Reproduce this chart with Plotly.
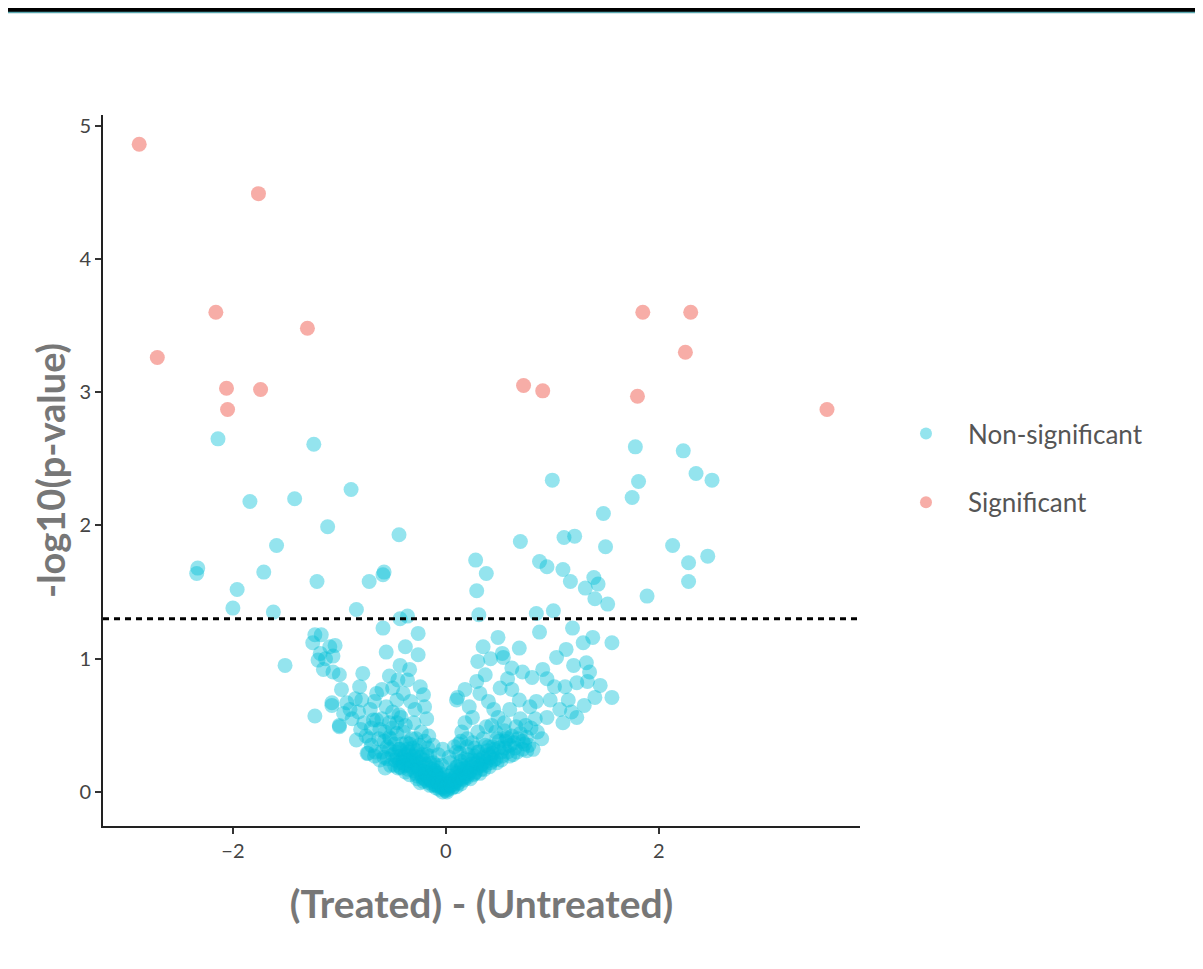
import plotly.graph_objects as go

# Significant points (log fold difference, -log10 p)
sig_x = [-2.88, -1.76, -2.16, -1.30, -2.71, -2.06, -1.74, -2.05, 0.73, 0.91, 1.85, 2.30, 2.25, 1.80, 3.58]
sig_y = [4.86, 4.49, 3.60, 3.48, 3.26, 3.03, 3.02, 2.87, 3.05, 3.01, 3.60, 3.60, 3.30, 2.97, 2.87]

# Non-significant points above the threshold line
ns_up_x = [-2.14, -1.24, -1.84, -1.42, -0.89, -1.11, -0.44, -1.59, -2.34, -2.33, -1.71, -1.21, -0.72,
           -0.58, -0.59, -1.96, -2.00, -1.62, -0.84, -0.43, -0.36,
           1.78, 2.23, 1.00, 1.81, 2.35, 2.50, 1.75, 1.48, 0.70, 1.11, 1.21, 1.50, 2.13, 2.46, 2.28,
           2.28, 1.89, 0.28, 0.38, 0.29, 0.31, 0.88, 0.95, 1.10, 1.17, 1.31, 1.39, 1.43, 1.40, 1.52,
           0.85, 1.01]
ns_up_y = [2.65, 2.61, 2.18, 2.20, 2.27, 1.99, 1.93, 1.85, 1.64, 1.68, 1.65, 1.58, 1.58,
           1.65, 1.63, 1.52, 1.38, 1.35, 1.37, 1.30, 1.32,
           2.59, 2.56, 2.34, 2.33, 2.39, 2.34, 2.21, 2.09, 1.88, 1.91, 1.92, 1.84, 1.85, 1.77, 1.72,
           1.58, 1.47, 1.74, 1.64, 1.51, 1.33, 1.73, 1.69, 1.67, 1.58, 1.53, 1.61, 1.56, 1.45, 1.41,
           1.34, 1.36]

# Non-significant points below the threshold, left half
ns_left_x = [-1.51, -1.23, -1.23, -1.17, -1.25, -1.18, -1.20, -1.09, -1.04, -1.06, -1.00, -1.06, -1.07,
             -0.98, -0.96, -1.00, -0.84, -0.78, -0.81, -0.79, -0.71, -0.73, -0.65, -0.60, -0.56, -0.53,
             -0.56, -0.59, -0.38, -0.26, -0.26, -0.43, -0.34, -0.24, -0.21, -0.29, -0.23, -0.46, -0.40,
             -0.68, -0.62, -0.53, -0.46, -0.37, -0.28, -0.21, -0.15, -0.09, -0.03, 0.00, -0.53, -0.62,
             -0.43, -0.34, -0.24, -0.15, -0.09,
             -1.07, -1.00, -0.74, -0.57, -0.65, -0.53, -0.43, -0.31, -0.15, -0.03, -1.13, -1.15, -0.93,
             -0.88, -0.80, -0.75, -0.70, -0.66, -0.48, -0.40, -0.36, -0.30, -0.27, -0.20, -0.18, -0.12,
             -0.10, -0.06, -0.05, -0.08, -0.12, -0.17, -0.20, -0.25, -0.32, -0.35, -0.38, -0.44, -0.50,
             -0.48, -0.58, -0.60, -0.70, -0.67, -0.85, -0.90, -0.30, -0.33, -0.18, -0.16, -0.12, -0.07,
             -0.04, -0.02, -0.45, -0.50, -0.36, -0.20, -0.27, -0.21, -0.38, -0.45, -0.52, -0.67,
             -0.55, -0.50, -0.47, -0.44, -0.42, -0.41, -0.39, -0.37, -0.35, -0.33, -0.31, -0.29, -0.28,
             -0.26, -0.25, -0.23, -0.22, -0.21, -0.19, -0.19, -0.17, -0.16, -0.15, -0.14, -0.13, -0.11,
             -0.11, -0.10, -0.09, -0.08, -0.07, -0.06, -0.05, -0.04, -0.03, -0.02, -0.01, -0.60, -0.57,
             -0.63, -0.72, -0.77, -0.82, -0.40, -0.34, -0.28,
             -0.48, -0.46, -0.44, -0.42, -0.40, -0.38, -0.36, -0.34, -0.32, -0.30, -0.28, -0.27, -0.25,
             -0.24, -0.22, -0.21, -0.19, -0.18, -0.16, -0.15, -0.13, -0.12, -0.10, -0.09, -0.07, -0.06,
             -0.04, -0.03, -0.01, -0.58, -0.55, -0.52, -0.50, -0.46, -0.42]
ns_left_y = [0.95, 0.57, 1.18, 1.18, 1.12, 1.04, 0.99, 1.09, 1.10, 1.02, 0.88, 0.90, 0.67,
             0.77, 0.59, 0.49, 0.39, 0.89, 0.79, 0.69, 0.62, 0.29, 0.74, 0.77, 0.64, 0.87,
             1.05, 1.23, 1.09, 1.19, 1.03, 0.95, 0.92, 0.79, 0.73, 0.62, 0.45, 0.69, 0.74,
             0.54, 0.47, 0.52, 0.44, 0.37, 0.29, 0.19, 0.27, 0.14, 0.07, 0.01, 0.32, 0.24,
             0.19, 0.13, 0.07, 0.05, 0.03,
             0.65, 0.50, 0.29, 0.18, 0.54, 0.41, 0.32, 0.22, 0.09, 0.00, 1.00, 0.92, 0.67,
             0.55, 0.47, 0.42, 0.35, 0.30, 0.24, 0.26, 0.20, 0.16, 0.12, 0.10, 0.15, 0.05,
             0.08, 0.04, 0.10, 0.18, 0.22, 0.33, 0.38, 0.35, 0.40, 0.30, 0.50, 0.58, 0.60,
             0.36, 0.38, 0.55, 0.48, 0.68, 0.70, 0.62, 0.52, 0.68, 0.55, 0.42, 0.35, 0.28,
             0.20, 0.13, 0.84, 0.78, 0.84, 0.64, 0.10, 0.08, 0.15, 0.18, 0.20, 0.27,
             0.25, 0.28, 0.30, 0.22, 0.27, 0.36, 0.20, 0.24, 0.17, 0.27, 0.33, 0.20, 0.24,
             0.17, 0.22, 0.13, 0.28, 0.16, 0.09, 0.21, 0.12, 0.07, 0.18, 0.10, 0.14, 0.06,
             0.11, 0.16, 0.05, 0.09, 0.12, 0.02, 0.06, 0.09, 0.03, 0.05, 0.02, 0.30, 0.45,
             0.40, 0.40, 0.52, 0.60, 0.45, 0.36, 0.40,
             0.20, 0.26, 0.32, 0.18, 0.22, 0.28, 0.32, 0.24, 0.19, 0.27, 0.14, 0.31, 0.18,
             0.26, 0.11, 0.24, 0.14, 0.28, 0.11, 0.22, 0.08, 0.17, 0.12, 0.20, 0.07, 0.14,
             0.04, 0.10, 0.06, 0.26, 0.34, 0.40, 0.48, 0.52, 0.56]

# Non-significant points below the threshold, right half
ns_right_x = [0.88, 1.19, 0.49, 0.35, 0.53, 0.69, 0.62, 0.54, 0.81, 0.91, 1.04, 1.13, 1.29, 1.38, 1.32,
              1.56, 0.37, 0.29, 0.18, 0.11, 0.32, 0.51, 0.62, 0.69, 0.79, 0.85, 0.95, 1.02, 1.12, 1.23,
              1.33, 1.40, 1.56, 1.23, 1.07, 1.15, 0.98, 0.18, 0.25, 0.38, 0.49, 0.60, 0.66, 0.76, 0.82,
              0.72, 0.57, 0.44, 0.35, 0.25, 0.16, 0.07, 0.01, 0.13, 0.04, -0.03, 0.25, 0.41, 0.10, 0.08,
              0.10,
              0.05, 0.09, 0.12, 0.14, 0.19, 0.21, 0.23, 0.28, 0.30, 0.33, 0.37, 0.40, 0.45, 0.48, 0.52,
              0.55, 0.60, 0.63, 0.68, 0.70, 0.75, 0.78, 0.86, 0.90, 0.84, 0.45, 0.40, 0.22, 0.15, 0.06,
              0.02, 0.03, 0.12, 0.20, 0.30, 0.43, 1.10, 1.18, 1.30, 1.45, 1.35, 1.20, 0.95, 0.72, 0.58,
              0.42, 0.30,
              0.02, 0.03, 0.04, 0.06, 0.07, 0.08, 0.10, 0.10, 0.11, 0.13, 0.14, 0.15, 0.16, 0.17, 0.18,
              0.19, 0.20, 0.22, 0.24, 0.26, 0.27, 0.29, 0.31, 0.32, 0.34, 0.36, 0.38, 0.39, 0.42, 0.44,
              0.47, 0.50, 0.53, 0.56, 0.58, 0.62, 0.65, 0.70, 0.74, 0.80, 0.27, 0.35, 0.47, 0.55,
              0.01, 0.03, 0.05, 0.07, 0.09, 0.11, 0.12, 0.14, 0.16, 0.18, 0.20, 0.21, 0.23, 0.25, 0.27,
              0.29, 0.31, 0.33, 0.35, 0.37, 0.40, 0.42, 0.45, 0.48, 0.50, 0.52, 0.55, 0.58, 0.60, 0.64,
              0.67, 0.72, 0.76, 0.10, 0.14, 0.20]
ns_right_y = [1.20, 1.23, 1.16, 1.09, 1.04, 1.08, 0.93, 1.01, 0.86, 0.92, 1.01, 1.07, 1.12, 1.16, 0.97,
              1.12, 0.88, 0.83, 0.77, 0.71, 0.74, 0.78, 0.77, 0.69, 0.64, 0.68, 0.56, 0.79, 0.79, 0.82,
              0.83, 0.71, 0.71, 0.56, 0.62, 0.69, 0.69, 0.52, 0.56, 0.49, 0.56, 0.62, 0.49, 0.41, 0.32,
              0.32, 0.41, 0.34, 0.26, 0.19, 0.11, 0.04, 0.00, 0.29, 0.22, 0.32, 0.37, 0.19, 0.69, 0.34,
              0.19,
              0.08, 0.12, 0.07, 0.17, 0.14, 0.24, 0.10, 0.15, 0.30, 0.20, 0.35, 0.28, 0.24, 0.40, 0.30,
              0.46, 0.35, 0.28, 0.40, 0.55, 0.50, 0.35, 0.45, 0.40, 0.55, 0.62, 0.68, 0.64, 0.45, 0.15,
              0.06, 0.26, 0.36, 0.40, 0.45, 0.50, 0.52, 0.60, 0.65, 0.80, 0.90, 0.95, 0.85, 0.90, 0.85,
              1.00, 0.98,
              0.02, 0.09, 0.05, 0.03, 0.10, 0.06, 0.04, 0.14, 0.09, 0.12, 0.06, 0.20, 0.15, 0.09, 0.25,
              0.12, 0.18, 0.14, 0.21, 0.13, 0.27, 0.18, 0.24, 0.14, 0.21, 0.17, 0.23, 0.31, 0.22, 0.29,
              0.25, 0.33, 0.27, 0.38, 0.30, 0.42, 0.33, 0.44, 0.36, 0.48, 0.33, 0.40, 0.45, 0.52,
              0.04, 0.12, 0.05, 0.16, 0.08, 0.19, 0.11, 0.23, 0.10, 0.18, 0.11, 0.28, 0.16, 0.24, 0.14,
              0.22, 0.30, 0.17, 0.25, 0.20, 0.34, 0.26, 0.32, 0.22, 0.38, 0.24, 0.33, 0.40, 0.27, 0.37,
              0.30, 0.38, 0.31, 0.30, 0.38, 0.34]

threshold = 1.30103
x_ticks = [-2, 0, 2]
y_ticks = [0, 1, 2, 3, 4, 5]

ns_x = ns_up_x + ns_left_x + ns_right_x
ns_y = ns_up_y + ns_left_y + ns_right_y

fig = go.Figure()
fig.add_trace(go.Scatter(
    x=ns_x, y=ns_y, mode="markers", name="Non-significant", legendgroup="a",
    marker=dict(size=15, color="rgba(0,190,214,0.42)", line=dict(width=0)),
))
fig.add_trace(go.Scatter(
    x=sig_x, y=sig_y, mode="markers", name="Significant", legendgroup="b",
    marker=dict(size=15, color="rgba(242,118,108,0.6)", line=dict(width=0)),
))

fig.add_hline(y=threshold, line=dict(color="black", width=3, dash="6px,5px"))

# screenshot top bar
fig.add_shape(type="rect", xref="paper", yref="paper", x0=-0.2, x1=1.5,
              y0=(711 + 107 - 4) / 711, y1=1.25, fillcolor="black", line=dict(width=0), layer="above")
fig.add_shape(type="line", xref="paper", yref="paper", x0=-0.2, x1=1.5,
              y0=(711 + 107 - 4.5) / 711, y1=(711 + 107 - 4.5) / 711,
              line=dict(color="#5aa8b0", width=1.5))

font_family = "Lato, 'Open Sans', sans-serif"
fig.update_layout(
    width=1203, height=969,
    margin=dict(l=95, r=351, t=107, b=151),
    paper_bgcolor="white", plot_bgcolor="white",
    font=dict(family=font_family, color="#555555"),
    xaxis=dict(range=[-3.22, 3.89], tickvals=x_ticks, ticks="outside", ticklen=6, tickwidth=1.5,
               tickcolor="#333", showline=True, linecolor="#222", linewidth=2, showgrid=False,
               zeroline=False, tickfont=dict(size=20, color="#444"),
               title=dict(text="<b>(Treated) - (Untreated)</b>", font=dict(size=39, color="#777777"),
                          standoff=30)),
    yaxis=dict(range=[-0.255, 5.08], tickvals=y_ticks, ticks="outside", ticklen=6, tickwidth=1.5,
               tickcolor="#333", showline=True, linecolor="#222", linewidth=2, showgrid=False,
               zeroline=False, tickfont=dict(size=20, color="#444"),
               title=dict(text="<b>-log10(p-value)</b>", font=dict(size=38, color="#777777"),
                          standoff=2)),
    legend=dict(x=1.0317, y=0.585, xanchor="left", yanchor="top", tracegroupgap=32,
                itemwidth=74,
                font=dict(size=26, color="#555"), itemsizing="constant", bgcolor="rgba(0,0,0,0)"),
)

fig.write_html("out.html")
